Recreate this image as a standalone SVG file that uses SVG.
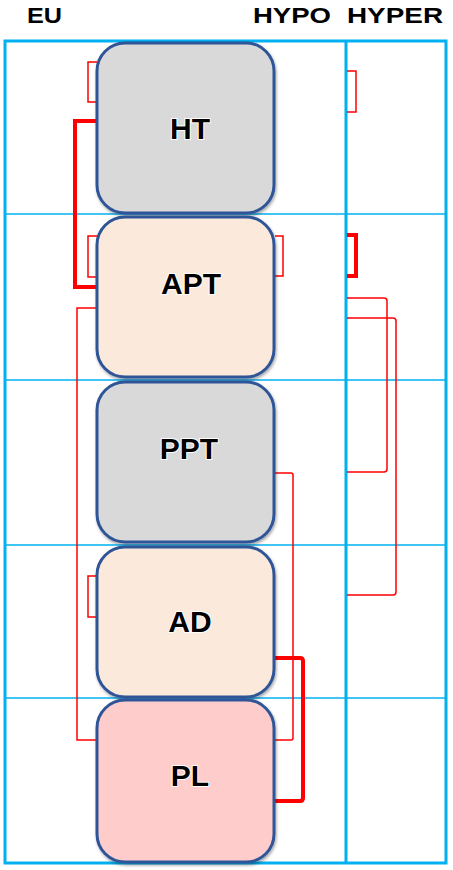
<svg xmlns="http://www.w3.org/2000/svg" width="453" height="870" viewBox="0 0 453 870">
<style>
.hdr{font-family:"Liberation Sans",Arial,sans-serif;font-weight:bold;font-size:22px;fill:#000}
.lbl{font-family:"Liberation Sans",Arial,sans-serif;font-weight:bold;font-size:30px;fill:#000;text-anchor:middle;stroke:#fff;stroke-width:2;paint-order:stroke}
.grid{stroke:#00B0F0;fill:none}
.node rect{stroke:#2F5597;stroke-width:3;filter:url(#sh)}
.thin{fill:none;stroke:#FF0000;stroke-width:1.5}
.thick{fill:none;stroke:#FF0000;stroke-width:4}
</style>
<defs>
<filter id="sh" x="-10%" y="-10%" width="120%" height="120%">
<feDropShadow dx="1" dy="2" stdDeviation="1.5" flood-color="#000" flood-opacity="0.35"/>
</filter>
</defs>
<rect width="453" height="870" fill="#fff"/>
<g id="headers">
<text class="hdr" x="27" y="23" textLength="35" lengthAdjust="spacingAndGlyphs">EU</text>
<text class="hdr" x="253" y="23" textLength="78" lengthAdjust="spacingAndGlyphs">HYPO</text>
<text class="hdr" x="347" y="23" textLength="96" lengthAdjust="spacingAndGlyphs">HYPER</text>
</g>
<g id="grid">
<line class="grid" x1="5" y1="214" x2="446" y2="214" stroke-width="1.5"/>
<line class="grid" x1="5" y1="380" x2="446" y2="380" stroke-width="1.5"/>
<line class="grid" x1="5" y1="545" x2="446" y2="545" stroke-width="1.5"/>
<line class="grid" x1="5" y1="698" x2="446" y2="698" stroke-width="1.5"/>
<line class="grid" x1="346" y1="41" x2="346" y2="863" stroke-width="3"/>
<rect class="grid" x="5" y="41" width="441" height="822" stroke-width="3"/>
</g>
<g id="connectors">
<path class="thin" d="M97,62 H88 V102 H97"/>
<path class="thick" d="M97,121 H75 V287 H97"/>
<path class="thin" d="M97,236 H88 V277 H97"/>
<path class="thin" d="M97,308 H77 V740 H97"/>
<path class="thin" d="M97,576 H88 V617 H97"/>
<path class="thin" d="M275,236 H283 V276 H275"/>
<path class="thin" d="M347,71 H356 V112 H347"/>
<path class="thick" d="M347,235 H356 V276 H347"/>
<path class="thin" d="M347,298 H384 Q387,298 387,301 V469 Q387,472 384,472 H347"/>
<path class="thin" d="M347,318 H393 Q396,318 396,321 V592 Q396,595 393,595 H347"/>
<path class="thin" d="M275,473 H291 Q293,473 293,475 V738 Q293,740 291,740 H275"/>
<path class="thick" d="M275,658 H300 Q303,658 303,661 V798 Q303,801 300,801 H275"/>
</g>
<g id="HT" class="node">
<rect x="97" y="43" width="177" height="170" rx="28" fill="#D9D9D9"/>
<text class="lbl" x="190" y="139">HT</text>
</g>
<g id="APT" class="node">
<rect x="97" y="217" width="177" height="160" rx="28" fill="#FBE9DB"/>
<text class="lbl" x="191" y="294">APT</text>
</g>
<g id="PPT" class="node">
<rect x="97" y="382" width="177" height="160" rx="28" fill="#D9D9D9"/>
<text class="lbl" x="189" y="459">PPT</text>
</g>
<g id="AD" class="node">
<rect x="97" y="547" width="177" height="150" rx="28" fill="#FBE9DB"/>
<text class="lbl" x="190" y="632">AD</text>
</g>
<g id="PL" class="node">
<rect x="97" y="700" width="177" height="162" rx="28" fill="#FFCCCC"/>
<text class="lbl" x="190" y="786">PL</text>
</g>
</svg>
